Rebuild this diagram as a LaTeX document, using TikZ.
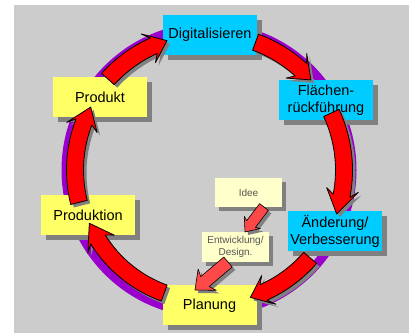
\documentclass[tikz,border=0pt]{standalone}
\usepackage{fontspec}
\setmainfont{Liberation Sans}
\usetikzlibrary{calc,shadows}
\definecolor{panel}{HTML}{CCCCCC}
\definecolor{cyanbox}{HTML}{00CCFF}
\definecolor{yelbox}{HTML}{FFFF66}
\definecolor{lightbox}{HTML}{FFFFCC}
\definecolor{ringcol}{HTML}{9900CC}
\definecolor{shadowgray}{HTML}{808080}
\definecolor{arrred}{HTML}{FF0000}
\definecolor{lightred}{HTML}{FF4848}
\definecolor{smalltext}{HTML}{555555}
\tikzset{
  boxshadow/.style={drop shadow={shadow xshift=5pt, shadow yshift=-5pt, opacity=1, fill=shadowgray}},
  box/.style={boxshadow, minimum width=94pt, minimum height=40pt, inner sep=0pt, align=center,
    font=\fontsize{14.5}{17}\selectfont},
  cbox/.style={box, fill=cyanbox},
  ybox/.style={box, fill=yelbox},
  sbox/.style={drop shadow={shadow xshift=4pt, shadow yshift=-4pt, opacity=1, fill=shadowgray},
    minimum width=67pt, minimum height=29pt, inner sep=0pt, align=center, fill=lightbox,
    text=smalltext, font=\fontsize{10}{12}\selectfont},
  bigarrow/.style={drop shadow={shadow xshift=3pt, shadow yshift=-3pt, opacity=1, fill=shadowgray},
    fill=arrred, draw=black, line width=0.8pt, line join=round},
  smallarrow/.style={drop shadow={shadow xshift=3pt, shadow yshift=-3pt, opacity=1, fill=shadowgray},
    fill=lightred, draw=black, line width=0.6pt, line join=round}
}
% #1 tail angle, #2 head base angle, #3 tip angle, #4 radius
\newcommand\bigarr[4]{%
  \path[bigarrow, shift={(209,164)}]
    ({#1}:{#4+8.5}) arc[start angle={#1}, end angle={#2}, radius={#4+8.5}]
    -- ({#2+2.5}:{#4+16}) -- ({#3}:{#4}) -- ({#2+2.5}:{#4-16})
    -- ({#2}:{#4-8.5}) arc[start angle={#2}, end angle={#1}, radius={#4-8.5}] -- cycle;}
% #1 tail coord, #2 tip coord, #3 half body, #4 half head, #5 head length, #6 barb back
\newcommand\smallarr[6]{%
  \coordinate (hb) at ($(#2)!#5!(#1)$);
  \coordinate (hw) at ($(#2)!#6!(#1)$);
  \path[smallarrow] ($(#1)!#3!90:(#2)$) -- ($(hb)!#3!90:(#2)$) -- ($(hw)!#4!90:(#2)$)
    -- (#2) -- ($(hw)!#4!-90:(#2)$) -- ($(hb)!#3!-90:(#2)$) -- ($(#1)!#3!-90:(#2)$) -- cycle;}
\begin{document}
\begin{tikzpicture}[x=1pt,y=1pt]
\useasboundingbox (0,0) rectangle (409,334);
\fill[white] (0,0) rectangle (409,334);
\fill[panel] (14,1) rectangle (409,329);
% ring
\draw[ringcol, line width=9pt] (209,164) circle[radius=143];
% boxes
\node[cbox] (dig) at (210,299) {Digitalisieren};
\node[cbox] (fla) at (326,234) {Flächen-\\rückführung};
\node[cbox] (aen) at (335,103) {Änderung/\\Verbesserung};
\node[ybox] (pla) at (209.5,28.5) {Planung};
\node[ybox] (prn) at (88,119) {Produktion};
\node[ybox] (prd) at (100,237) {Produkt};
\node[sbox] (ide) at (248.5,141) {Idee};
\node[sbox, minimum height=30pt] (ent) at (235.5,87) {Entwicklung/\\Design.};
% big cycle arrows
\bigarr{138}{114}{108}{136}
\bigarr{70}{47.5}{41.5}{136}
\bigarr{25}{-11}{-19}{135}
\bigarr{-41}{-66}{-72}{134}
\bigarr{250}{212}{204}{131}
\bigarr{194}{159}{152}{134}
% small arrows
\coordinate (t7) at (264,127);
\coordinate (p7) at (245,102);
\smallarr{t7}{p7}{5.5pt}{10pt}{10pt}{12pt}
\coordinate (t8) at (228,72);
\coordinate (p8) at (195,44);
\smallarr{t8}{p8}{6.5pt}{14pt}{13pt}{16pt}
\end{tikzpicture}
\end{document}
